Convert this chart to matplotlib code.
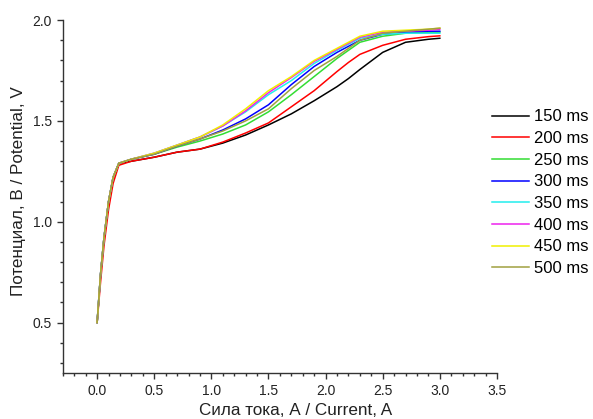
import matplotlib
matplotlib.use("Agg")
import matplotlib.pyplot as plt
from matplotlib.ticker import MultipleLocator

plt.rcParams['font.family'] = ['Liberation Sans', 'DejaVu Sans']

# ток, А
current = [0, 0.03, 0.06, 0.1, 0.14, 0.19, 0.3, 0.5, 0.7, 0.9, 1.1, 1.3, 1.5, 1.7, 1.9, 2.1, 2.2, 2.3, 2.5, 2.7, 2.9, 3.0]

# потенциал, В для разных длительностей импульса
v150 = [0.5, 0.74, 0.92, 1.10, 1.22, 1.29, 1.30, 1.32, 1.345, 1.36, 1.39, 1.43, 1.48, 1.535, 1.60, 1.67, 1.71, 1.755, 1.84, 1.89, 1.905, 1.91]
v200 = [0.5, 0.70, 0.88, 1.06, 1.19, 1.28, 1.30, 1.32, 1.345, 1.36, 1.395, 1.44, 1.49, 1.57, 1.65, 1.745, 1.79, 1.83, 1.875, 1.905, 1.918, 1.922]
v250 = [0.5, 0.74, 0.92, 1.10, 1.22, 1.29, 1.31, 1.335, 1.37, 1.40, 1.435, 1.48, 1.545, 1.63, 1.72, 1.81, 1.85, 1.89, 1.92, 1.935, 1.94, 1.94]
v300 = [0.5, 0.74, 0.92, 1.10, 1.22, 1.29, 1.31, 1.335, 1.375, 1.41, 1.455, 1.51, 1.58, 1.68, 1.77, 1.84, 1.87, 1.90, 1.93, 1.94, 1.945, 1.945]
v350 = [0.5, 0.74, 0.92, 1.10, 1.22, 1.29, 1.31, 1.34, 1.38, 1.42, 1.475, 1.545, 1.63, 1.70, 1.785, 1.85, 1.88, 1.91, 1.93, 1.935, 1.935, 1.935]
v400 = [0.5, 0.74, 0.92, 1.10, 1.22, 1.29, 1.31, 1.34, 1.38, 1.42, 1.475, 1.55, 1.64, 1.715, 1.795, 1.855, 1.885, 1.915, 1.94, 1.945, 1.95, 1.955]
v450 = [0.5, 0.74, 0.92, 1.10, 1.22, 1.29, 1.31, 1.34, 1.38, 1.42, 1.48, 1.56, 1.65, 1.72, 1.80, 1.86, 1.89, 1.92, 1.945, 1.95, 1.955, 1.96]
v500 = [0.5, 0.74, 0.92, 1.10, 1.22, 1.29, 1.31, 1.335, 1.375, 1.41, 1.45, 1.50, 1.56, 1.66, 1.75, 1.82, 1.86, 1.90, 1.935, 1.945, 1.955, 1.96]

labels = ['150 ms', '200 ms', '250 ms', '300 ms', '350 ms', '400 ms', '450 ms', '500 ms']
series = [v150, v200, v250, v300, v350, v400, v450, v500]
colors = ['#000000', '#ff0000', '#33dd33', '#0000ff', '#22eeee', '#ee22ee', '#f0f000', '#a0a040']

fig = plt.figure(figsize=(5.93, 4.19), dpi=100)
ax = fig.add_axes([0.106, 0.110, 0.732, 0.842])

for y, c, lab in zip(series, colors, labels):
    ax.plot(current, y, color=c, lw=1.1, label=lab)

ax.set_xlim(-0.3, 3.5)
ax.set_ylim(0.25, 2.0)
ax.xaxis.set_major_locator(MultipleLocator(0.5))
ax.xaxis.set_minor_locator(MultipleLocator(0.1))
ax.yaxis.set_major_locator(MultipleLocator(0.5))
ax.yaxis.set_minor_locator(MultipleLocator(0.1))
ax.xaxis.set_major_formatter(plt.FormatStrFormatter('%.1f'))
ax.yaxis.set_major_formatter(plt.FormatStrFormatter('%.1f'))

for s in ['top', 'right']:
    ax.spines[s].set_visible(False)
for s in ['left', 'bottom']:
    ax.spines[s].set_linewidth(1.0)
    ax.spines[s].set_color('#333333')

ax.tick_params(which='major', direction='out', length=4.5, width=1.0, labelsize=10, colors='#333333', labelcolor='#222222')
ax.tick_params(which='minor', direction='out', length=2.5, width=1.0, colors='#333333')

ax.set_xlabel('Сила тока, А / Current, A', fontsize=12.3, color='#222222')
ax.set_ylabel('Потенциал, В / Potential, V', fontsize=12.3, color='#222222')
ax.xaxis.set_label_coords(0.535, -0.085)
ax.yaxis.set_label_coords(-0.084, 0.515)

fig.legend(loc='center left', bbox_to_anchor=(0.830, 0.54), frameon=False,
           fontsize=12, handlelength=2.2, handletextpad=0.3, labelspacing=0.4,
           borderpad=0, borderaxespad=0)

fig.savefig('out.png', dpi=100)
